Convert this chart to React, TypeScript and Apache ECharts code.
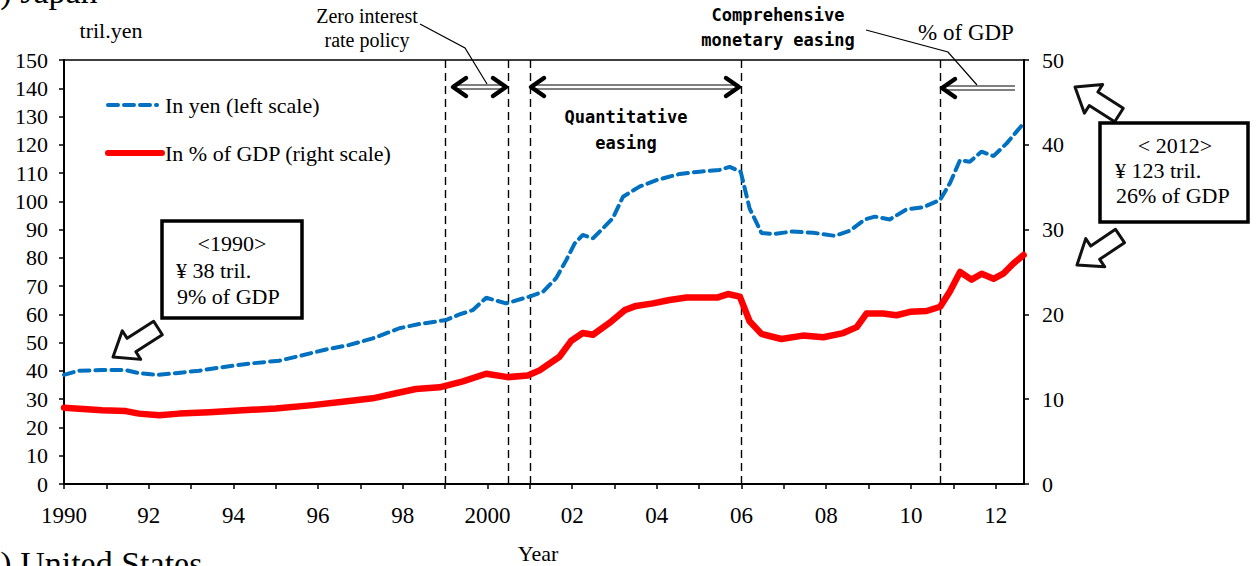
import React, { useEffect, useRef } from "react";
import * as echarts from "echarts";

// ---- data ----
const yenYears = [1990.0, 1990.35, 1990.9, 1991.46, 1991.77, 1992.2, 1992.64, 1993.19, 1993.82, 1994.45, 1995.08, 1995.56, 1996.19, 1996.74, 1997.29, 1997.92, 1998.39, 1999.02, 1999.34, 1999.65, 1999.97, 2000.44, 2000.99, 2001.31, 2001.62, 2001.86, 2002.06, 2002.25, 2002.49, 2002.96, 2003.2, 2003.59, 2003.99, 2004.54, 2005.01, 2005.48, 2005.72, 2005.98, 2006.19, 2006.47, 2006.74, 2007.18, 2007.69, 2008.2, 2008.56, 2008.91, 2009.15, 2009.5, 2009.9, 2010.29, 2010.69, 2010.92, 2011.16, 2011.39, 2011.67, 2011.95, 2012.26, 2012.66];
const yenValues = [38.6, 40.1, 40.3, 40.3, 39.2, 38.6, 39.2, 40.1, 41.5, 42.7, 43.6, 45.3, 47.6, 49.2, 51.5, 55.1, 56.6, 58.0, 60.0, 61.5, 65.9, 63.9, 66.3, 68.0, 72.8, 79.2, 85.1, 88.1, 86.9, 94.0, 101.6, 105.2, 107.5, 109.7, 110.5, 111.1, 112.2, 110.5, 97.5, 88.8, 88.4, 89.3, 88.9, 87.8, 89.6, 93.6, 94.6, 93.6, 97.2, 97.9, 100.5, 106.4, 114.6, 114.0, 117.6, 116.0, 120.5, 127.6];

const gdpYears = [1990.0, 1990.9, 1991.46, 1991.77, 1992.25, 1992.72, 1993.43, 1994.22, 1995.0, 1995.87, 1996.58, 1997.29, 1997.84, 1998.31, 1998.87, 1999.42, 1999.97, 2000.48, 2000.95, 2001.23, 2001.7, 2001.98, 2002.25, 2002.49, 2002.88, 2003.24, 2003.51, 2003.91, 2004.3, 2004.7, 2005.44, 2005.68, 2005.96, 2006.19, 2006.47, 2006.94, 2007.45, 2007.93, 2008.4, 2008.72, 2008.95, 2009.34, 2009.66, 2009.98, 2010.37, 2010.69, 2010.92, 2011.16, 2011.43, 2011.67, 2011.95, 2012.18, 2012.42, 2012.66];
const gdpValues = [9.0, 8.7, 8.6, 8.3, 8.1, 8.3, 8.45, 8.7, 8.9, 9.3, 9.7, 10.1, 10.7, 11.2, 11.4, 12.1, 13.0, 12.6, 12.8, 13.4, 15.0, 16.9, 17.8, 17.6, 19.0, 20.5, 21.0, 21.3, 21.7, 22.0, 22.0, 22.4, 22.1, 19.2, 17.7, 17.1, 17.5, 17.3, 17.8, 18.5, 20.1, 20.1, 19.9, 20.3, 20.4, 20.9, 22.7, 25.0, 24.1, 24.8, 24.2, 24.8, 26.0, 27.0];

const policyYears = [1999.0, 2000.5, 2001.0, 2006.0, 2010.7];
const xMin = 1990;
const xMax = 2012.67;
const xLabelYears = [1990, 1992, 1994, 1996, 1998, 2000, 2002, 2004, 2006, 2008, 2010, 2012];
const xLabelTexts = ["1990", "92", "94", "96", "98", "2000", "02", "04", "06", "08", "10", "12"];

const seriesNames = ["In yen (left scale)", "In % of GDP (right scale)"];

const SERIF = "'Liberation Serif', 'Times New Roman', serif";
const MONO = "'DejaVu Sans Mono', monospace";

function blockArrow(tipX: number, tipY: number, tailX: number, tailY: number) {
  const dx = tipX - tailX;
  const dy = tipY - tailY;
  const L = Math.sqrt(dx * dx + dy * dy);
  const ux = dx / L, uy = dy / L;
  const px = -uy, py = ux;
  const hl = 22, hw = 17, sw = 8;
  const local = [
    [0, 0], [-hl, -hw], [-hl, -sw], [-L, -sw], [-L, sw], [-hl, sw], [-hl, hw],
  ];
  const pts = local.map(([a, b]) => [tipX + a * ux + b * px, tipY + a * uy + b * py]);
  return {
    type: "polygon",
    shape: { points: pts },
    style: { fill: "#fff", stroke: "#111", lineWidth: 3, lineJoin: "round" },
    z: 100,
  };
}

function doubleArrow(x1: number, x2: number, y: number, leftHead: boolean, rightHead: boolean) {
  const els: any[] = [];
  els.push({ type: "line", shape: { x1: x1 + 3, y1: y - 2, x2: x2 - 3, y2: y - 2 }, style: { stroke: "#000", lineWidth: 1.2 }, z: 100 });
  els.push({ type: "line", shape: { x1: x1 + 3, y1: y + 2, x2: x2 - 3, y2: y + 2 }, style: { stroke: "#000", lineWidth: 1.2 }, z: 100 });
  const h = { stroke: "#000", lineWidth: 4.5, fill: null, lineCap: "round", lineJoin: "round" } as any;
  if (leftHead) els.push({ type: "polyline", shape: { points: [[x1 + 14, y - 9], [x1 + 1, y], [x1 + 14, y + 9]] }, style: h, z: 100 });
  if (rightHead) els.push({ type: "polyline", shape: { points: [[x2 - 14, y - 9], [x2 - 1, y], [x2 - 14, y + 9]] }, style: h, z: 100 });
  return els;
}

function txt(text: string, x: number, y: number, size: number, align: string, opts: any = {}) {
  return {
    type: "text",
    x, y, z: 110,
    style: {
      text, fill: "#000", font: `${opts.bold ? "bold " : ""}${size}px ${opts.font || SERIF}`,
      align, verticalAlign: opts.va || "middle",
    },
  };
}

export default function App() {
  const ref = useRef<HTMLDivElement>(null);
  useEffect(() => {
    if (!ref.current) return;
    const chart = echarts.init(ref.current, null, { renderer: "svg" });
    const graphic: any[] = [
      txt("(1) Japan", -28, -9, 34, "left"),
      txt("(2) United States", -28, 563, 34, "left"),
      txt("tril.yen", 111, 30, 22, "center"),
      txt("% of GDP", 966, 32, 23, "center"),
      txt("Year", 538, 553, 22, "center"),
      txt("Zero interest", 367, 16, 20, "center"),
      txt("rate policy", 367, 40, 20, "center"),
      txt("Comprehensive", 778, 15, 17, "center", { font: MONO, bold: true }),
      txt("monetary easing", 778, 40, 17, "center", { font: MONO, bold: true }),
      txt("Quantitative", 626, 117, 17, "center", { font: MONO, bold: true }),
      txt("easing", 626, 143, 17, "center", { font: MONO, bold: true }),
      { type: "polyline", shape: { points: [[420, 24], [465, 48], [487, 84]] }, style: { stroke: "#000", lineWidth: 1.2, fill: null }, z: 100 },
      { type: "polyline", shape: { points: [[866, 30], [948, 52], [977, 85]] }, style: { stroke: "#000", lineWidth: 1.2, fill: null }, z: 100 },
      ...doubleArrow(452, 507, 87, true, true),
      ...doubleArrow(530, 740, 87, true, true),
      ...doubleArrow(941, 1018, 88, true, false),
      // boxes
      { type: "rect", shape: { x: 162, y: 221, width: 140, height: 97 }, style: { fill: "#fff", stroke: "#000", lineWidth: 3.5 }, z: 105 },
      txt("<1990>", 232, 243, 22, "center"),
      txt("¥ 38 tril.", 176, 270, 22, "left"),
      txt("9% of GDP", 177, 296, 22, "left"),
      { type: "rect", shape: { x: 1100, y: 123, width: 148, height: 99 }, style: { fill: "#fff", stroke: "#000", lineWidth: 3.5 }, z: 105 },
      txt("< 2012>", 1175, 145, 22, "center"),
      txt("¥ 123 tril.", 1115, 170, 22, "left"),
      txt("26% of GDP", 1116, 195, 22, "left"),
      blockArrow(113, 357, 158, 328),
      blockArrow(1075, 87, 1119, 115),
      blockArrow(1077, 265, 1120, 236),
      // legend
      { type: "line", shape: { x1: 108, y1: 105, x2: 157, y2: 105 }, style: { stroke: "#0070C0", lineWidth: 4, lineDash: [10, 6], lineCap: "round" }, z: 100 },
      txt(seriesNames[0], 165, 105, 22, "left"),
      { type: "line", shape: { x1: 108, y1: 153, x2: 162, y2: 153 }, style: { stroke: "#FF0000", lineWidth: 6, lineCap: "round" }, z: 100 },
      txt(seriesNames[1], 165, 153, 22, "left"),
    ];

    const axisFont = { fontFamily: SERIF, fontSize: 22, color: "#000" };
    const option: any = {
      animation: false,
      grid: { left: 64, right: 234, top: 60, bottom: 82, show: true, borderColor: "#000", borderWidth: 1.5, containLabel: false },
      xAxis: {
        type: "value", min: xMin, max: xMax, interval: 1,
        axisLine: { show: true, lineStyle: { color: "#000", width: 2 } },
        axisTick: { show: true, inside: false, length: 5, lineStyle: { color: "#000", width: 1.5 } },
        axisLabel: {
          ...axisFont, fontSize: 23, margin: 20, showMaxLabel: false,
          formatter: (v: number) => {
            const i = xLabelYears.findIndex((y) => Math.abs(y - v) < 1e-6);
            return i >= 0 ? xLabelTexts[i] : "";
          },
        },
        splitLine: { show: false },
      },
      yAxis: [
        {
          type: "value", min: 0, max: 150, interval: 10, position: "left",
          axisLine: { show: true, lineStyle: { color: "#000", width: 2 } },
          axisTick: { show: true, inside: false, length: 5, lineStyle: { color: "#000", width: 1.5 } },
          axisLabel: { ...axisFont, margin: 16 },
          splitLine: { show: false },
        },
        {
          type: "value", min: 0, max: 50, interval: 10, position: "right",
          axisLine: { show: true, lineStyle: { color: "#000", width: 2 } },
          axisTick: { show: true, inside: false, length: 5, lineStyle: { color: "#000", width: 1.5 } },
          axisLabel: { ...axisFont, margin: 18 },
          splitLine: { show: false },
        },
      ],
      series: [
        {
          name: seriesNames[0], type: "line", yAxisIndex: 0, showSymbol: false, symbol: "none",
          data: yenYears.map((y, i) => [y, yenValues[i]]),
          lineStyle: { color: "#0070C0", width: 4, type: [10, 6], cap: "round" },
          z: 5,
          markLine: {
            silent: true, symbol: ["none", "none"], label: { show: false },
            lineStyle: { color: "#000", width: 1.4, type: [8, 5] },
            data: policyYears.map((y) => ({ xAxis: y })),
          },
        },
        {
          name: seriesNames[1], type: "line", yAxisIndex: 1, showSymbol: false, symbol: "none",
          data: gdpYears.map((y, i) => [y, gdpValues[i]]),
          lineStyle: { color: "#FF0000", width: 6.5, cap: "round", join: "round" },
          z: 6,
        },
      ],
      graphic,
    };
    chart.setOption(option);
    return () => chart.dispose();
  }, []);
  return (
    <div
      ref={ref}
      style={{ position: "fixed", left: 0, top: 0, width: 1258, height: 566, background: "#fff" }}
    />
  );
}
